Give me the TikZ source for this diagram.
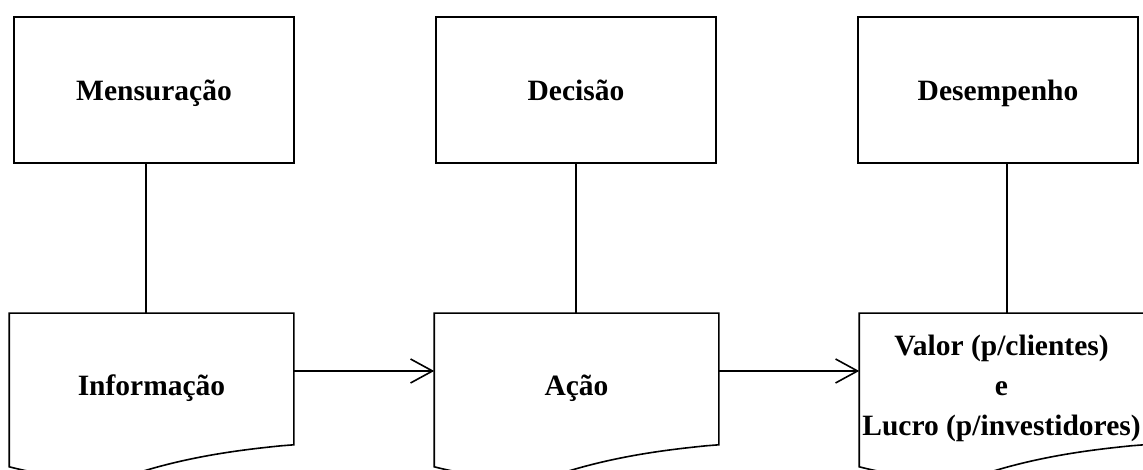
\documentclass[tikz,border=0pt]{standalone}
\usepackage{fontspec}
\setmainfont{Liberation Serif}
\usetikzlibrary{positioning,arrows.meta}

\begin{document}
\begin{tikzpicture}[x=1pt,y=1pt,on grid,line width=1.6pt,
    font=\fontsize{29.5}{40}\selectfont\bfseries,
    box/.style={draw,rectangle,minimum width=280pt,minimum height=146pt,inner sep=0pt,
      text height=28pt,text depth=6pt},
    doc/.style={rectangle,minimum width=283pt,minimum height=148pt,inner sep=0pt,align=center},
    flow/.style={-{Straight Barb[length=22pt,width=24pt]}}]
    \useasboundingbox (0,0) rectangle (1143,470);

    \node[box] (mens) at (154,380)          {Mensura\c{c}\~ao};
    \node[box] (dec)  [right=422pt of mens] {Decis\~ao};
    \node[box] (des)  [right=422pt of dec]  {Desempenho};

    \node[doc] (info)  at (151.5,82)          {Informa\c{c}\~ao};
    \node[doc] (acao)  [right=425pt of info]  {A\c{c}\~ao};
    \node[doc] (valor) [right=425pt of acao]  {Valor (p/clientes)\\e\\Lucro (p/investidores)};

    % document outlines with wavy bottom
    \foreach \n in {info,acao,valor}
      \draw (\n.north west) -- (\n.north east) -- ([yshift=18pt]\n.south east)
        -- ([xshift=272pt,yshift=17pt]\n.south west)
        .. controls +(-40pt,-4pt) and +(50pt,15pt) .. ([xshift=135pt,yshift=-8pt]\n.south west)
        .. controls +(-35pt,-9pt) and +(50pt,-13pt) .. ([yshift=-4pt]\n.south west) -- cycle;

    \draw ([xshift=-8pt]mens.south) -- ([xshift=-8pt]mens.south |- info.north);
    \draw (dec.south) -- (dec.south |- acao.north);
    \draw ([xshift=9pt]des.south) -- ([xshift=9pt]des.south |- valor.north);

    \draw[flow] ([yshift=17pt]info.east) -- ([yshift=17pt]acao.west);
    \draw[flow] ([yshift=17pt]acao.east) -- ([yshift=17pt]valor.west);
\end{tikzpicture}
\end{document}
